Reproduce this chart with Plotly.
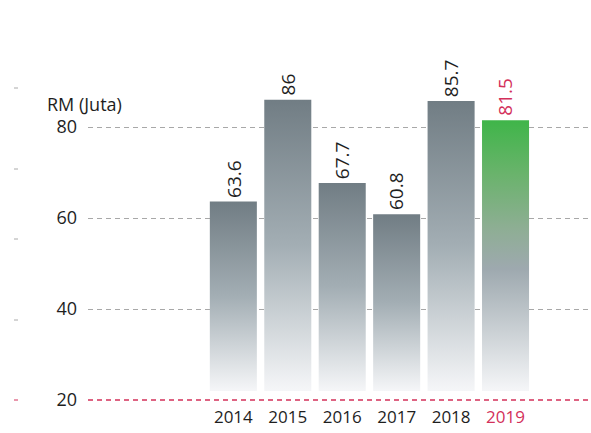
import plotly.graph_objects as go

years = ["2014", "2015", "2016", "2017", "2018", "2019"]
values = [63.6, 86, 67.7, 60.8, 85.7, 81.5]
y_ticks = [20, 40, 60, 80]
bar_base = 22

GREY_SCALE = [[0, "#f5f6f8"], [0.5, "#a3aeb4"], [1, "#717d84"]]
GREEN_SCALE = [[0, "#f5f6f8"], [0.45, "#9ea9af"], [0.6, "#8eae94"], [0.8, "#6ab36c"], [1, "#3fb549"]]
RED = "#d3305a"
INK = "#1e1e1e"
FONT = "Open Sans"

W, H = 591, 433
L, T, B = 88, 36, 33
PW, PH = W - L, H - T - B

fig = go.Figure()
half = 0.432
for i, (yr, v) in enumerate(zip(years, values)):
    last = i == len(years) - 1
    fig.add_trace(go.Scatter(
        x=[i - half, i + half, i + half, i - half, i - half],
        y=[bar_base, bar_base, v, v, bar_base],
        mode="lines", line=dict(width=0), fill="toself",
        fillgradient=dict(type="vertical", colorscale=GREEN_SCALE if last else GREY_SCALE),
        hoverinfo="skip", showlegend=False,
    ))
    fig.add_annotation(
        x=i, y=v, text=f"{v:g}", textangle=-90, showarrow=False,
        xanchor="center", yanchor="bottom", yshift=2,
        font=dict(family=FONT, size=19, color=RED if last else INK),
    )

ticktext = [y if y != years[-1] else f"<span style='color:{RED}'>{y}</span>" for y in years]

fig.update_layout(
    width=W, height=H,
    margin=dict(l=L, r=0, t=T, b=B),
    paper_bgcolor="white", plot_bgcolor="white",
    font=dict(family=FONT, size=16, color=INK),
    xaxis=dict(range=[-2.67, 6.57], tickvals=list(range(len(years))), ticktext=ticktext,
               showgrid=False, zeroline=False, showline=False, ticklabelstandoff=5,
               tickfont=dict(size=17)),
    yaxis=dict(range=[20, 100], tickvals=y_ticks, showgrid=True, gridcolor="#a8a8a8",
               griddash="5px,4px", gridwidth=1, zeroline=False, showline=False,
               ticklabelstandoff=10, tickfont=dict(size=18)),
)

# red baseline at 20
fig.add_shape(type="line", xref="paper", x0=0, x1=1, yref="paper", y0=0, y1=0,
              line=dict(color=RED, width=1.5, dash="5px,4px"))

# small markers at the left edge (pixel rows)
for py, col in [(88, "#aaaaaa"), (169, "#aaaaaa"), (239, "#aaaaaa"), (320, "#aaaaaa"), (400, RED)]:
    yp = (H - B - py) / PH
    fig.add_shape(type="line", xref="paper", x0=(14 - L) / PW, x1=(18 - L) / PW,
                  yref="paper", y0=yp, y1=yp, line=dict(color=col, width=1))

fig.add_annotation(x=(45 - L) / PW, xref="paper", xanchor="left", y=85, yref="y",
                   text="RM (Juta)", showarrow=False,
                   font=dict(family=FONT, size=18, color=INK))

# drop the default page margin so the figure fills the window
fig.write_html("out.html", config={"displayModeBar": False},
               post_script="document.body.style.margin='0';document.body.style.overflow='hidden';")
